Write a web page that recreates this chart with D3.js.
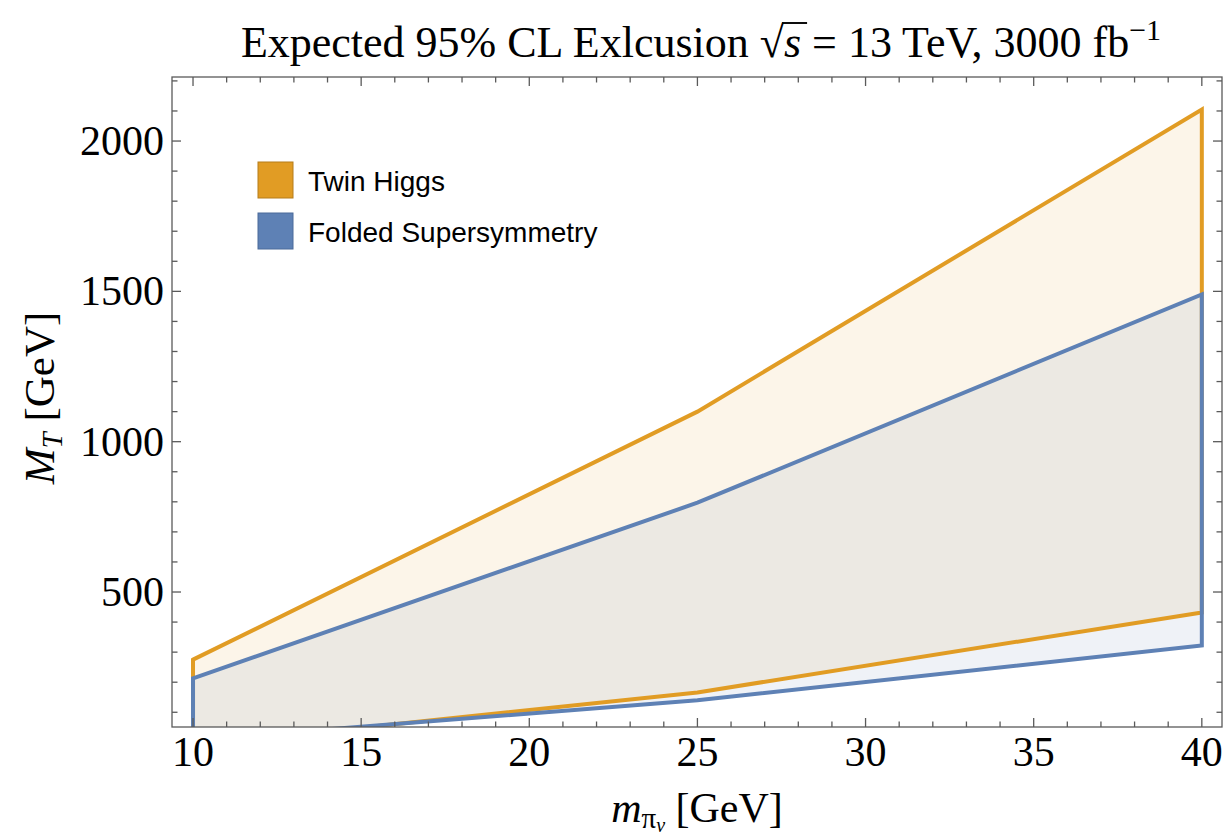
<!DOCTYPE html>
<html>
<head>
<meta charset="utf-8">
<script src="https://cdn.jsdelivr.net/npm/d3@7"></script>
<style>
  body { margin: 0; background: #fff; }
  svg { display: block; }
</style>
</head>
<body>
<div id="chart"></div>
<script>
// data
const massPoints = [10, 25, 40];
const twinUpper = [275, 1100, 2105];
const twinLower = [-10, 166, 432];
const foldedUpper = [213, 797, 1490];
const foldedLower = [8, 140, 322];
const xTickValues = [10, 15, 20, 25, 30, 35, 40];
const yTickValues = [500, 1000, 1500, 2000];
const legendNames = ['Twin Higgs', 'Folded Supersymmetry'];

const width = 1226, height = 836;
const frame = { left: 172, right: 1222, top: 77, bottom: 727 };
const orange = '#E19C24', blue = '#5E81B5', frameColor = '#5a5a5a';

const svg = d3.select('#chart').append('svg')
  .attr('width', width).attr('height', height);

const x = d3.scaleLinear().domain([9.375, 40.6]).range([frame.left, frame.right]);
const y = d3.scaleLinear().domain([51, 2213]).range([frame.bottom, frame.top]);

// clip the bands to the frame
svg.append('clipPath').attr('id', 'plotclip')
  .append('rect')
  .attr('x', frame.left).attr('y', frame.top)
  .attr('width', frame.right - frame.left).attr('height', frame.bottom - frame.top);

function band(upper, lower) {
  const pts = massPoints.map((m, i) => [m, upper[i]]);
  for (let i = massPoints.length - 1; i >= 0; i--) pts.push([massPoints[i], lower[i]]);
  return pts;
}
const bandLine = d3.line().x(d => x(d[0])).y(d => y(d[1])).curve(d3.curveLinearClosed);

const bands = [
  { pts: band(twinUpper, twinLower), color: orange },
  { pts: band(foldedUpper, foldedLower), color: blue }
];

const plot = svg.append('g').attr('clip-path', 'url(#plotclip)');
// fills first, then outlines
plot.selectAll('.fill').data(bands).enter().append('path')
  .attr('class', 'fill')
  .attr('d', d => bandLine(d.pts))
  .attr('fill', d => d.color).attr('fill-opacity', 0.1)
  .attr('stroke', 'none');
plot.selectAll('.edge').data(bands).enter().append('path')
  .attr('class', 'edge')
  .attr('d', d => bandLine(d.pts))
  .attr('fill', 'none').attr('stroke', d => d.color)
  .attr('stroke-width', 4).attr('stroke-linejoin', 'miter');

// frame with ticks on all sides
const xMinor = d3.range(10, 41, 1);
const yMinor = d3.range(100, 2201, 100);
const major = 9, minor = 5.5;

const axes = svg.append('g').attr('stroke', frameColor).attr('stroke-width', 1.3);
axes.append('rect')
  .attr('x', frame.left).attr('y', frame.top)
  .attr('width', frame.right - frame.left).attr('height', frame.bottom - frame.top)
  .attr('fill', 'none');

xMinor.forEach(v => {
  const len = v % 5 === 0 ? major : minor;
  axes.append('line').attr('x1', x(v)).attr('x2', x(v))
    .attr('y1', frame.bottom).attr('y2', frame.bottom - len);
  axes.append('line').attr('x1', x(v)).attr('x2', x(v))
    .attr('y1', frame.top).attr('y2', frame.top + len);
});
yMinor.forEach(v => {
  const len = v % 500 === 0 ? major : minor;
  axes.append('line').attr('y1', y(v)).attr('y2', y(v))
    .attr('x1', frame.left).attr('x2', frame.left + len);
  axes.append('line').attr('y1', y(v)).attr('y2', y(v))
    .attr('x1', frame.right).attr('x2', frame.right - len);
});

// tick labels
const serif = '"Liberation Serif", "Times New Roman", serif';
svg.selectAll('.xlab').data(xTickValues).enter().append('text')
  .attr('x', d => x(d)).attr('y', 766)
  .attr('text-anchor', 'middle')
  .style('font-family', serif).style('font-size', '42px')
  .text(d => d);
svg.selectAll('.ylab').data(yTickValues).enter().append('text')
  .attr('x', 164).attr('y', d => y(d) + 14)
  .attr('text-anchor', 'end')
  .style('font-family', serif).style('font-size', '42px')
  .text(d => d);

// title
const title = svg.append('text')
  .attr('x', 701).attr('y', 57)
  .attr('text-anchor', 'middle')
  .style('font-family', serif).style('font-size', '44px');
title.append('tspan').text('Expected 95% CL Exlcusion ');
title.append('tspan').text('√');
title.append('tspan').style('font-style', 'italic').text('s');
title.append('tspan').text('  = 13 TeV, 3000 fb');
title.append('tspan').attr('dy', -17).style('font-size', '30px').text('−1');

// radical bar over the s
const tNode = title.node();
const sIndex = 'Expected 95% CL Exlcusion √'.length;
const sqrtBox = tNode.getExtentOfChar(sIndex - 1);
const sBox = tNode.getExtentOfChar(sIndex);
svg.append('line')
  .attr('x1', sqrtBox.x + sqrtBox.width - 2).attr('x2', sBox.x + sBox.width + 6)
  .attr('y1', sqrtBox.y + 5).attr('y2', sqrtBox.y + 5)
  .attr('stroke', '#000').attr('stroke-width', 1.9);

// axis labels
const xLabel = svg.append('text')
  .attr('x', 697).attr('y', 822)
  .attr('text-anchor', 'middle')
  .style('font-family', serif).style('font-size', '42px');
xLabel.append('tspan').style('font-style', 'italic').text('m');
xLabel.append('tspan').attr('dy', 6).style('font-size', '29px').text('π');
xLabel.append('tspan').attr('dy', 4).style('font-size', '20px').style('font-style', 'italic').text('ν');
xLabel.append('tspan').attr('dy', -10).text(' [GeV]');

const yLabel = svg.append('text')
  .attr('transform', 'translate(54, 398) rotate(-90)')
  .attr('text-anchor', 'middle')
  .style('font-family', serif).style('font-size', '43px');
yLabel.append('tspan').style('font-style', 'italic').text('M');
yLabel.append('tspan').attr('dy', 8).style('font-size', '29px').style('font-style', 'italic').text('T');
yLabel.append('tspan').attr('dy', -8).text(' [GeV]');

// legend
const legend = svg.selectAll('.legend').data(legendNames).enter().append('g')
  .attr('transform', (d, i) => `translate(258, ${162 + i * 51})`);
legend.append('rect')
  .attr('width', 35).attr('height', 36)
  .attr('fill', (d, i) => i === 0 ? orange : blue)
  .attr('stroke', (d, i) => i === 0 ? '#b57c1a' : '#4b6b9a')
  .attr('stroke-width', 1);
legend.append('text')
  .attr('x', 50).attr('y', 29)
  .style('font-family', '"Liberation Sans", Arial, sans-serif')
  .style('font-size', '28px')
  .text(d => d);
</script>
</body>
</html>
